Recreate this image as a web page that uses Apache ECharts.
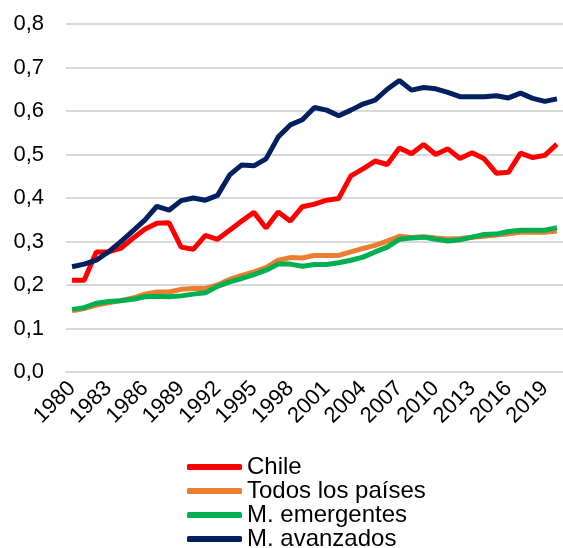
<!DOCTYPE html>
<html>
<head>
<meta charset="utf-8">
<script src="https://cdn.jsdelivr.net/npm/echarts@6/dist/echarts.min.js"></script>
<style>
  html, body { margin: 0; padding: 0; background: #fff; }
  #main { width: 563px; height: 548px; }
</style>
</head>
<body>
<div id="main"></div>
<script>
// años 1980-2020
const years = [];
for (let y = 1980; y <= 2020; y++) years.push(String(y));

const chile = [0.211, 0.211, 0.276, 0.276, 0.284, 0.307, 0.328, 0.342, 0.343, 0.287,
  0.282, 0.314, 0.305, 0.326, 0.347, 0.367, 0.331, 0.368, 0.347, 0.380,
  0.386, 0.395, 0.399, 0.451, 0.467, 0.485, 0.477, 0.515, 0.502, 0.523,
  0.500, 0.513, 0.491, 0.504, 0.490, 0.457, 0.459, 0.503, 0.493, 0.498, 0.524];

const todos = [0.141, 0.146, 0.154, 0.159, 0.164, 0.170, 0.179, 0.184, 0.184, 0.190,
  0.192, 0.192, 0.200, 0.213, 0.222, 0.230, 0.240, 0.257, 0.263, 0.262,
  0.268, 0.268, 0.268, 0.276, 0.284, 0.291, 0.301, 0.312, 0.309, 0.311,
  0.308, 0.306, 0.307, 0.310, 0.312, 0.315, 0.318, 0.321, 0.321, 0.321, 0.324];

const emergentes = [0.144, 0.148, 0.158, 0.162, 0.164, 0.167, 0.173, 0.174, 0.173, 0.175,
  0.179, 0.182, 0.197, 0.207, 0.215, 0.224, 0.234, 0.248, 0.248, 0.243,
  0.247, 0.247, 0.251, 0.257, 0.264, 0.276, 0.287, 0.305, 0.308, 0.310,
  0.305, 0.301, 0.304, 0.310, 0.316, 0.317, 0.323, 0.326, 0.326, 0.326, 0.332];

const avanzados = [0.242, 0.248, 0.257, 0.276, 0.299, 0.324, 0.349, 0.381, 0.372, 0.394,
  0.400, 0.395, 0.406, 0.453, 0.476, 0.474, 0.490, 0.540, 0.568, 0.580,
  0.608, 0.602, 0.589, 0.602, 0.616, 0.625, 0.650, 0.670, 0.648, 0.654,
  0.651, 0.643, 0.633, 0.633, 0.633, 0.635, 0.630, 0.641, 0.629, 0.622, 0.628];

const seriesNames = ["Chile", "Todos los países", "M. emergentes", "M. avanzados"];
const colors = ["#FF0000", "#ED7D31", "#00B050", "#002060"];
const seriesData = [chile, todos, emergentes, avanzados];

const myChart = echarts.init(document.getElementById("main"));

const font = "Liberation Sans, Arial, sans-serif";

const option = {
  animation: false,
  textStyle: { fontFamily: font },
  grid: {
    left: 66,
    top: 24,
    width: 500,
    height: 348
  },
  legend: {
    orient: "vertical",
    left: 187,
    top: 455,
    height: 120,
    padding: 0,
    itemWidth: 55,
    itemHeight: 6,
    itemGap: 0,
    icon: "roundRect",
    data: seriesNames,
    textStyle: {
      fontSize: 24,
      lineHeight: 24,
      color: "#000",
      fontFamily: font
    }
  },
  xAxis: {
    type: "category",
    data: years,
    boundaryGap: true,
    axisLine: { lineStyle: { color: "#d9d9d9", width: 2 } },
    axisTick: { show: false },
    axisLabel: {
      interval: 2,
      rotate: 45,
      fontSize: 22,
      color: "#000",
      margin: 13,
      fontFamily: font
    }
  },
  yAxis: {
    type: "value",
    min: 0,
    max: 0.8,
    interval: 0.1,
    axisLine: { show: false },
    axisTick: { show: false },
    splitLine: { lineStyle: { color: "#d9d9d9", width: 2 } },
    axisLabel: {
      fontSize: 22,
      color: "#000",
      margin: 22,
      fontFamily: font,
      formatter: v => v.toFixed(1).replace(".", ",")
    }
  },
  series: seriesData.map((d, i) => ({
    name: seriesNames[i],
    type: "line",
    data: d,
    symbol: "none",
    color: colors[i],
    lineStyle: { color: colors[i], width: 5 },
    z: i === 1 ? 2 : 3
  }))
};

myChart.setOption(option);
</script>
</body>
</html>
